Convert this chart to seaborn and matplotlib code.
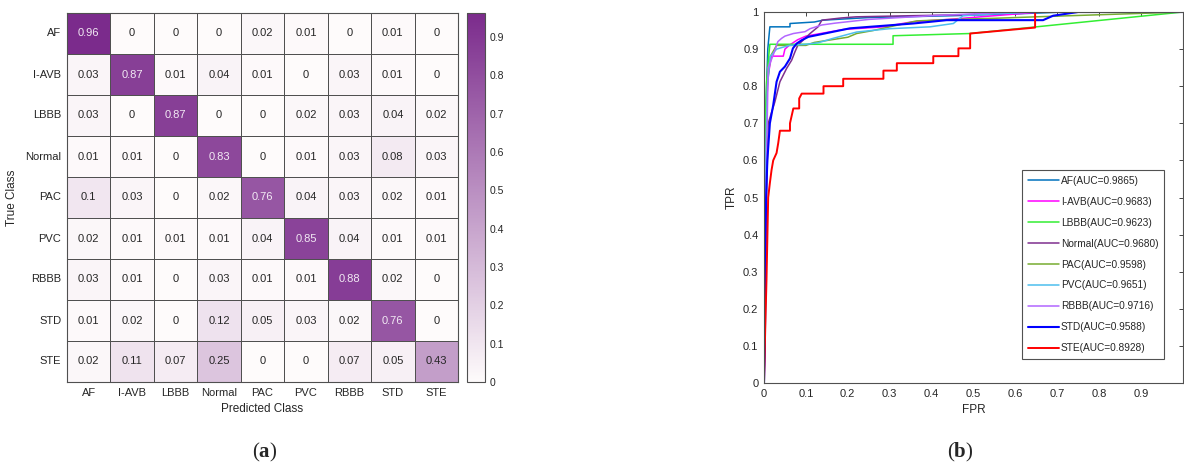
import numpy as np
import pandas as pd
import matplotlib
matplotlib.use("Agg")
import matplotlib.pyplot as plt
from matplotlib.colors import LinearSegmentedColormap
import seaborn as sns

# ---------------- data ----------------
classes = ["AF", "I-AVB", "LBBB", "Normal", "PAC", "PVC", "RBBB", "STD", "STE"]
cm_values = [
    [0.96, 0, 0, 0, 0.02, 0.01, 0, 0.01, 0],
    [0.03, 0.87, 0.01, 0.04, 0.01, 0, 0.03, 0.01, 0],
    [0.03, 0, 0.87, 0, 0, 0.02, 0.03, 0.04, 0.02],
    [0.01, 0.01, 0, 0.83, 0, 0.01, 0.03, 0.08, 0.03],
    [0.1, 0.03, 0, 0.02, 0.76, 0.04, 0.03, 0.02, 0.01],
    [0.02, 0.01, 0.01, 0.01, 0.04, 0.85, 0.04, 0.01, 0.01],
    [0.03, 0.01, 0, 0.03, 0.01, 0.01, 0.88, 0.02, 0],
    [0.01, 0.02, 0, 0.12, 0.05, 0.03, 0.02, 0.76, 0],
    [0.02, 0.11, 0.07, 0.25, 0, 0, 0.07, 0.05, 0.43],
]
cbar_ticks = [0, 0.1, 0.2, 0.3, 0.4, 0.5, 0.6, 0.7, 0.8, 0.9]

auc_values = [0.9865, 0.9683, 0.9623, 0.9680, 0.9598, 0.9651, 0.9716, 0.9588, 0.8928]

fpr_AF = [0, 0.002, 0.005, 0.009, 0.014, 0.062, 0.062, 0.12, 0.141, 0.25, 0.45, 0.6, 0.72, 1.0]
tpr_AF = [0, 0.35, 0.75, 0.9, 0.96, 0.96, 0.969, 0.973, 0.978, 0.985, 0.99, 0.995, 1.0, 1.0]

fpr_IAVB = [0, 0.003, 0.006, 0.01, 0.018, 0.046, 0.05, 0.06, 0.08, 0.1, 0.15, 0.19, 0.285, 0.356, 0.44, 0.55, 0.66, 1.0]
tpr_IAVB = [0, 0.55, 0.75, 0.83, 0.881, 0.881, 0.9, 0.91, 0.925, 0.935, 0.945, 0.953, 0.96, 0.974, 0.98, 0.99, 1.0, 1.0]

fpr_LBBB = [0, 0.002, 0.003, 0.006, 0.01, 0.014, 0.308, 0.308, 0.492, 1.0]
tpr_LBBB = [0, 0.45, 0.7, 0.81, 0.866, 0.913, 0.913, 0.936, 0.942, 1.0]

fpr_Normal = [0, 0.003, 0.006, 0.01, 0.026, 0.038, 0.054, 0.066, 0.074, 0.081, 0.098, 0.11, 0.129, 0.138, 0.185, 0.22, 0.35, 0.5, 0.6, 1.0]
tpr_Normal = [0, 0.2, 0.5, 0.70, 0.758, 0.812, 0.848, 0.87, 0.893, 0.911, 0.929, 0.942, 0.96, 0.978, 0.984, 0.987, 0.99, 0.993, 1.0, 1.0]

fpr_PAC = [0, 0.003, 0.008, 0.015, 0.03, 0.1, 0.12, 0.16, 0.2, 0.221, 0.26, 0.3, 0.365, 0.45, 0.55, 0.65, 1.0]
tpr_PAC = [0, 0.5, 0.8, 0.88, 0.91, 0.91, 0.918, 0.925, 0.932, 0.942, 0.95, 0.96, 0.976, 0.98, 0.983, 0.987, 1.0]

fpr_PVC = [0, 0.003, 0.008, 0.015, 0.03, 0.06, 0.1, 0.129, 0.165, 0.221, 0.3, 0.396, 0.452, 0.475, 0.55, 0.65, 1.0]
tpr_PVC = [0, 0.55, 0.8, 0.88, 0.9, 0.91, 0.913, 0.917, 0.929, 0.946, 0.955, 0.96, 0.969, 0.99, 0.995, 1.0, 1.0]

fpr_RBBB = [0, 0.003, 0.006, 0.01, 0.022, 0.033, 0.042, 0.05, 0.07, 0.098, 0.11, 0.138, 0.17, 0.25, 0.4, 0.6, 1.0]
tpr_RBBB = [0, 0.15, 0.6, 0.85, 0.884, 0.92, 0.929, 0.935, 0.942, 0.947, 0.955, 0.965, 0.97, 0.98, 0.99, 1.0, 1.0]

fpr_STD = [0, 0.002, 0.003, 0.005, 0.008, 0.014, 0.022, 0.03, 0.038, 0.05, 0.062, 0.069, 0.078, 0.09, 0.106, 0.205, 0.356, 0.436, 0.666, 0.69, 0.75, 1.0]
tpr_STD = [0, 0.1, 0.26, 0.5, 0.6, 0.70, 0.749, 0.812, 0.839, 0.853, 0.875, 0.902, 0.915, 0.924, 0.933, 0.956, 0.969, 0.978, 0.978, 0.99, 1.0, 1.0]

fpr_STE = [0, 0.003, 0.006, 0.01, 0.014, 0.018, 0.022, 0.03, 0.034, 0.038, 0.062, 0.062, 0.07, 0.084, 0.084, 0.09, 0.142, 0.142, 0.189, 0.189, 0.285, 0.285, 0.317, 0.317, 0.404, 0.404, 0.464, 0.464, 0.492, 0.492, 0.647, 0.647, 1.0]
tpr_STE = [0, 0.15, 0.28, 0.5, 0.539, 0.574, 0.6, 0.62, 0.647, 0.68, 0.68, 0.70, 0.74, 0.74, 0.767, 0.78, 0.78, 0.80, 0.80, 0.82, 0.82, 0.842, 0.842, 0.862, 0.862, 0.881, 0.881, 0.902, 0.902, 0.942, 0.958, 1.0, 1.0]

roc_fpr = [fpr_AF, fpr_IAVB, fpr_LBBB, fpr_Normal, fpr_PAC, fpr_PVC, fpr_RBBB, fpr_STD, fpr_STE]
roc_tpr = [tpr_AF, tpr_IAVB, tpr_LBBB, tpr_Normal, tpr_PAC, tpr_PVC, tpr_RBBB, tpr_STD, tpr_STE]
roc_colors = ["#0072BD", "#FF00FF", "#33EE33", "#7E2F8E", "#77AC30", "#4DBEEE", "#B266FF", "#0000FF", "#FF0000"]
roc_widths = [1.1, 1.1, 1.1, 1.1, 1.1, 1.1, 1.1, 1.5, 1.4]
roc_ticks = [0, 0.1, 0.2, 0.3, 0.4, 0.5, 0.6, 0.7, 0.8, 0.9, 1]

# ---------------- style ----------------
sns.set_theme(style="white")
plt.rcParams["font.family"] = ["Liberation Sans", "DejaVu Sans"]
plt.rcParams["mathtext.fontset"] = "custom"
plt.rcParams["mathtext.rm"] = "Liberation Serif"
plt.rcParams["mathtext.bf"] = "Liberation Serif:bold"
txt = "#262626"

fig = plt.figure(figsize=(11.84, 4.66), dpi=100)

# ---------------- (a) confusion matrix ----------------
ax1 = fig.add_axes([67 / 1184, 1 - 382 / 466, (458 - 67) / 1184, (382 - 13) / 466])
cax = fig.add_axes([467 / 1184, 1 - 382 / 466, (485 - 467) / 1184, (382 - 13) / 466])
cmap = LinearSegmentedColormap.from_list("purp", ["#FEFBFB", "#7B2B8C"])
df = pd.DataFrame(cm_values, index=classes, columns=classes)
sns.heatmap(df, ax=ax1, cmap=cmap, vmin=0, vmax=0.963, annot=True, fmt="g",
            linewidths=0.5, linecolor="#505050", cbar_ax=cax,
            annot_kws={"size": 8})
for t, v in zip(ax1.texts, np.array(cm_values).ravel()):
    t.set_color("#F2EAF4" if v > 0.5 else txt)
for s in ax1.spines.values():
    s.set_visible(True)
    s.set_color("#505050")
    s.set_linewidth(0.8)
ax1.tick_params(axis="both", length=0, labelsize=8, colors=txt, pad=4)
ax1.set_yticklabels(classes, rotation=0)
ax1.set_xticklabels(classes, rotation=0)
ax1.set_xlabel("Predicted Class", fontsize=8.5, color=txt, labelpad=4)
ax1.set_ylabel("True Class", fontsize=8.5, color=txt, labelpad=5)

cbar = ax1.collections[0].colorbar
cbar.set_ticks(cbar_ticks)
cbar.set_ticklabels([f"{v:g}" for v in cbar_ticks])
cbar.ax.tick_params(labelsize=7.5, colors=txt, direction="in", length=3, width=0.6, pad=3)
cbar.outline.set_edgecolor("#505050")
cbar.outline.set_linewidth(0.8)

# ---------------- (b) ROC curves ----------------
ax2 = fig.add_axes([764 / 1184, 1 - 383 / 466, (1183 - 764) / 1184, (383 - 12) / 466])
for cls, fx, ty, col, lw, auc in zip(classes, roc_fpr, roc_tpr, roc_colors, roc_widths, auc_values):
    sns.lineplot(x=fx, y=ty, ax=ax2, color=col, linewidth=lw, estimator=None,
                 sort=False, label=f"{cls}(AUC={auc:.4f})")
ax2.set_xlim(0, 1)
ax2.set_ylim(0, 1)
ax2.set_xticks(roc_ticks)
ax2.set_xticklabels([f"{v:g}" for v in roc_ticks[:-1]] + [""])
ax2.set_yticks(roc_ticks)
ax2.set_yticklabels([f"{v:g}" for v in roc_ticks])
ax2.tick_params(axis="both", direction="in", length=3, width=0.6, labelsize=8,
                colors=txt, top=True, right=True, pad=4)
for s in ax2.spines.values():
    s.set_color("#505050")
    s.set_linewidth(0.8)
ax2.set_xlabel("FPR", fontsize=8.5, color=txt, labelpad=4)
ax2.set_ylabel("TPR", fontsize=8.5, color=txt, labelpad=4)
leg = ax2.legend(loc="lower right", bbox_to_anchor=(0.955, 0.065), fontsize=7.3,
                 handlelength=3.1, labelspacing=1.08, frameon=True, fancybox=False,
                 borderpad=0.55, handletextpad=0.2, borderaxespad=0)
leg.get_frame().set_edgecolor("#262626")
leg.get_frame().set_linewidth(0.8)
for t in leg.get_texts():
    t.set_color(txt)

# ---------------- panel labels ----------------
fig.text(265 / 1184, 1 - 452 / 466, r"($\mathbf{a}$)", ha="center", va="center",
         fontsize=15, family="Liberation Serif")
fig.text(960 / 1184, 1 - 452 / 466, r"($\mathbf{b}$)", ha="center", va="center",
         fontsize=15, family="Liberation Serif")

fig.savefig("out.png", dpi=100)
